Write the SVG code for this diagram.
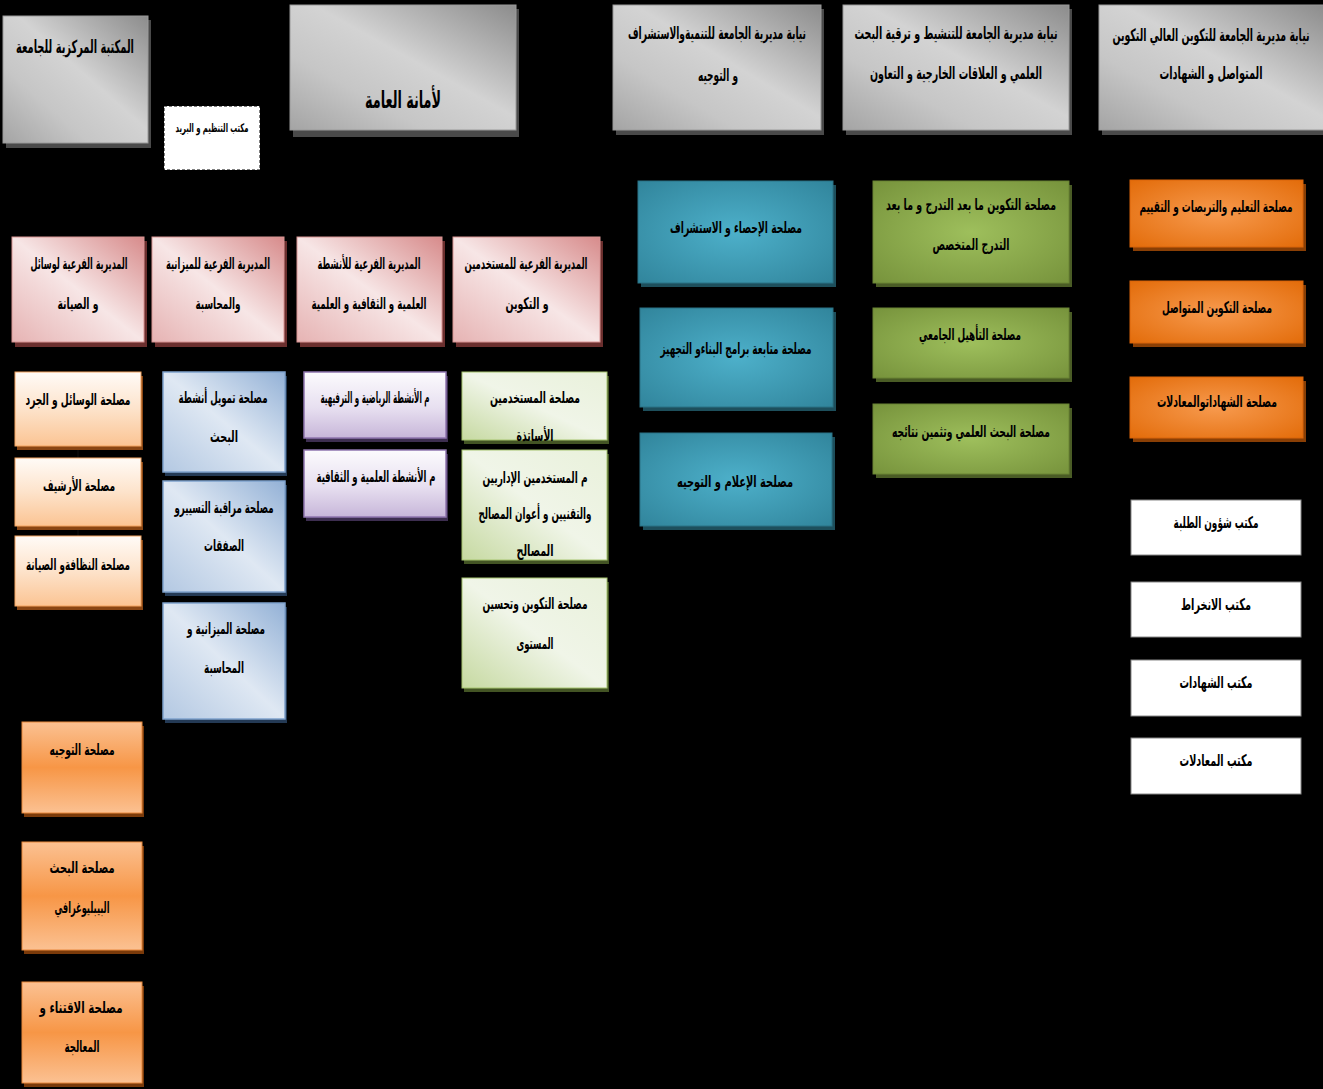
<svg xmlns="http://www.w3.org/2000/svg" width="1323" height="1089" viewBox="0 0 1323 1089">
<defs>
<linearGradient id="gGray" x1="1" y1="0" x2="0" y2="1"><stop offset="0" stop-color="#8c8c8c"/><stop offset="0.45" stop-color="#d3d3d3"/><stop offset="0.7" stop-color="#c6c6c6"/><stop offset="1" stop-color="#a4a4a4"/></linearGradient>
<linearGradient id="gPink" x1="1" y1="0" x2="0" y2="1"><stop offset="0" stop-color="#d78b8b"/><stop offset="0.5" stop-color="#f7e6e6"/><stop offset="1" stop-color="#e6b3b3"/></linearGradient>
<linearGradient id="gPeach" x1="0" y1="0" x2="0" y2="1"><stop offset="0" stop-color="#fffbf7"/><stop offset="0.5" stop-color="#fde3cb"/><stop offset="1" stop-color="#fbc493"/></linearGradient>
<linearGradient id="gBlue" x1="1" y1="0" x2="0" y2="1"><stop offset="0" stop-color="#93b1d6"/><stop offset="0.5" stop-color="#dfe8f3"/><stop offset="1" stop-color="#b3c8e2"/></linearGradient>
<linearGradient id="gPurple" x1="0" y1="0" x2="0" y2="1"><stop offset="0" stop-color="#fcfbfd"/><stop offset="0.55" stop-color="#e7dff0"/><stop offset="1" stop-color="#c7b6d9"/></linearGradient>
<linearGradient id="gLGreen" x1="1" y1="0" x2="0" y2="1"><stop offset="0" stop-color="#e9f1db"/><stop offset="0.5" stop-color="#f0f5e8"/><stop offset="1" stop-color="#c6d9a1"/></linearGradient>
<linearGradient id="gOrangeL" x1="0" y1="0" x2="0" y2="1"><stop offset="0" stop-color="#fbc192"/><stop offset="0.5" stop-color="#f79646"/><stop offset="1" stop-color="#fbc192"/></linearGradient>
<radialGradient id="gTeal" cx="0.5" cy="0.5" r="0.7"><stop offset="0" stop-color="#4db0ca"/><stop offset="1" stop-color="#31859c"/></radialGradient>
<radialGradient id="gOlive" cx="0.5" cy="0.5" r="0.7"><stop offset="0" stop-color="#9ebf5c"/><stop offset="1" stop-color="#77933c"/></radialGradient>
<radialGradient id="gOrangeR" cx="0.5" cy="0.5" r="0.7"><stop offset="0" stop-color="#f79a4e"/><stop offset="1" stop-color="#e36c0a"/></radialGradient>
<style>
text{font-family:"DejaVu Sans","DejaVu Sans Condensed",sans-serif;font-weight:bold;fill:#000;text-anchor:middle;font-size:16px}
.t18{font-size:18px}.t24{font-size:24px}.t17{font-size:17px}.t12{font-size:12px}
.gray{fill:url(#gGray);stroke:#9a9a9a;stroke-width:1}
.shGray{fill:#4a4a4a}
.pink{fill:url(#gPink);stroke:#d99594;stroke-width:1}
.shPink{fill:#6b2f2e}
.peach{fill:url(#gPeach);stroke:#f4a460;stroke-width:1}
.shPeach{fill:#8a4613}
.blue{fill:url(#gBlue);stroke:#7fa2cd;stroke-width:1.5}
.shBlue{fill:#243a55}
.purple{fill:url(#gPurple);stroke:#8f75ae;stroke-width:1.5}
.shPurple{fill:#3d2e50}
.lgreen{fill:url(#gLGreen);stroke:#a6c46e;stroke-width:1}
.shLGreen{fill:#435424}
.orangeL{fill:url(#gOrangeL);stroke:#e8873a;stroke-width:1}
.shOrangeL{fill:#7a3a0a}
.teal{fill:url(#gTeal);stroke:#2b7385;stroke-width:1}
.shTeal{fill:#1d4f5c}
.olive{fill:url(#gOlive);stroke:#6a8435;stroke-width:1}
.shOlive{fill:#4a5c25}
.orangeR{fill:url(#gOrangeR);stroke:#d9640a;stroke-width:1}
.shOrangeR{fill:#8a3f05}
.white{fill:#fff;stroke:#888;stroke-width:1}
.dashed{fill:#fff;stroke:#000;stroke-width:1;stroke-dasharray:3 2}
.conn{stroke:#111;stroke-width:1;fill:none}
</style>
</defs>
<rect x="0" y="0" width="1323" height="1089" fill="#000"/>

<g id="connectors">
<line class="conn" x1="403" y1="130" x2="403" y2="137"/>
<line class="conn" x1="78" y1="446" x2="78" y2="458"/>
<line class="conn" x1="78" y1="526" x2="78" y2="536"/>
</g>

<!-- top row -->
<g id="n-library">
<rect class="shGray" x="6" y="20" width="145" height="128"/>
<rect class="gray" x="3" y="16" width="145" height="127"/>
<text class="t18" x="75" y="53" textLength="118" lengthAdjust="spacingAndGlyphs">المكتبة المركزية للجامعة</text>
</g>
<g id="n-mail">
<rect class="dashed" x="164" y="106" width="96" height="64"/>
<text class="t12" x="212" y="132" textLength="73" lengthAdjust="spacingAndGlyphs">مكتب التنظيم و البريد</text>
</g>
<g id="n-secretariat">
<rect class="shGray" x="293" y="9" width="226" height="128"/>
<rect class="gray" x="290" y="5" width="226" height="125"/>
<text class="t24" x="403" y="108" textLength="76" lengthAdjust="spacingAndGlyphs">لأمانة العامة</text>
</g>
<g id="n-vp-dev">
<rect class="shGray" x="616" y="9" width="208" height="126"/>
<rect class="gray" x="613" y="5" width="208" height="125"/>
<text class="t17" x="717" y="39" textLength="178" lengthAdjust="spacingAndGlyphs">نيابة مديرية الجامعة للتنميةوالاستشراف</text>
<text class="t17" x="718" y="81" textLength="40" lengthAdjust="spacingAndGlyphs">و التوجيه</text>
</g>
<g id="n-vp-research">
<rect class="shGray" x="846" y="9" width="226" height="126"/>
<rect class="gray" x="843" y="5" width="226" height="125"/>
<text class="t17" x="956" y="39" textLength="203" lengthAdjust="spacingAndGlyphs">نيابة مديرية الجامعة للتنشيط  و ترقية البحث</text>
<text class="t17" x="956" y="79" textLength="172" lengthAdjust="spacingAndGlyphs">العلمي و العلاقات الخارجية و التعاون</text>
</g>
<g id="n-vp-training">
<rect class="shGray" x="1102" y="9" width="224" height="126"/>
<rect class="gray" x="1099" y="5" width="226" height="125"/>
<text class="t17" x="1211" y="41" textLength="197" lengthAdjust="spacingAndGlyphs">نيابة مديرية الجامعة للتكوين العالي التكوين</text>
<text class="t17" x="1211" y="79" textLength="103" lengthAdjust="spacingAndGlyphs">المتواصل و الشهادات</text>
</g>

<!-- pink sub-directorates -->
<g id="n-sd-means">
<rect class="shPink" x="15" y="241" width="132" height="106"/>
<rect class="pink" x="12" y="237" width="132" height="105"/>
<text x="79" y="269" textLength="97" lengthAdjust="spacingAndGlyphs">المديرية الفرعية لوسائل</text>
<text x="78" y="309" textLength="41" lengthAdjust="spacingAndGlyphs">و الصيانة</text>
</g>
<g id="n-sd-budget">
<rect class="shPink" x="155" y="241" width="132" height="106"/>
<rect class="pink" x="152" y="237" width="132" height="105"/>
<text x="218" y="269" textLength="104" lengthAdjust="spacingAndGlyphs">المديرية الفرعية للميزانية</text>
<text x="218" y="309" textLength="45" lengthAdjust="spacingAndGlyphs">والمحاسبة</text>
</g>
<g id="n-sd-activities">
<rect class="shPink" x="300" y="241" width="145" height="106"/>
<rect class="pink" x="297" y="237" width="145" height="105"/>
<text x="369" y="269" textLength="103" lengthAdjust="spacingAndGlyphs">المديرية الفرعية للأنشطة</text>
<text x="369" y="309" textLength="115" lengthAdjust="spacingAndGlyphs">العلمية و الثقافية و العلمية</text>
</g>
<g id="n-sd-staff">
<rect class="shPink" x="456" y="241" width="147" height="106"/>
<rect class="pink" x="453" y="237" width="147" height="105"/>
<text x="526" y="269" textLength="123" lengthAdjust="spacingAndGlyphs">المديرية الفرعية للمستخدمين</text>
<text x="527" y="309" textLength="43" lengthAdjust="spacingAndGlyphs">و التكوين</text>
</g>

<!-- peach column -->
<g id="n-s-means">
<rect class="shPeach" x="17" y="376" width="126" height="74"/>
<rect class="peach" x="15" y="372" width="126" height="74"/>
<text x="78" y="405" textLength="105" lengthAdjust="spacingAndGlyphs">مصلحة الوسائل و الجرد</text>
</g>
<g id="n-s-archive">
<rect class="shPeach" x="17" y="462" width="126" height="68"/>
<rect class="peach" x="15" y="458" width="126" height="68"/>
<text x="79" y="491" textLength="72" lengthAdjust="spacingAndGlyphs">مصلحة الأرشيف</text>
</g>
<g id="n-s-cleaning">
<rect class="shPeach" x="17" y="540" width="126" height="70"/>
<rect class="peach" x="15" y="536" width="126" height="70"/>
<text x="78" y="570" textLength="104" lengthAdjust="spacingAndGlyphs">مصلحة النظافةو الصيانة</text>
</g>

<!-- blue column -->
<g id="n-s-funding">
<rect class="shBlue" x="165" y="376" width="122" height="100"/>
<rect class="blue" x="163" y="372" width="122" height="100"/>
<text x="223" y="403" textLength="89" lengthAdjust="spacingAndGlyphs">مصلحة تمويل أنشطة</text>
<text x="224" y="442" textLength="28" lengthAdjust="spacingAndGlyphs">البحث</text>
</g>
<g id="n-s-control">
<rect class="shBlue" x="165" y="485" width="122" height="111"/>
<rect class="blue" x="163" y="481" width="122" height="111"/>
<text x="224" y="513" textLength="99" lengthAdjust="spacingAndGlyphs">مصلحة مراقبة التسييرو</text>
<text x="224" y="551" textLength="40" lengthAdjust="spacingAndGlyphs">الصفقات</text>
</g>
<g id="n-s-budget">
<rect class="shBlue" x="165" y="607" width="122" height="116"/>
<rect class="blue" x="163" y="603" width="122" height="116"/>
<text x="226" y="634" textLength="78" lengthAdjust="spacingAndGlyphs">مصلحة الميزانية و</text>
<text x="224" y="673" textLength="40" lengthAdjust="spacingAndGlyphs">المحاسبة</text>
</g>

<!-- purple column -->
<g id="n-s-sports">
<rect class="shPurple" x="306" y="376" width="142" height="66"/>
<rect class="purple" x="304" y="372" width="142" height="66"/>
<text x="375" y="403" textLength="109" lengthAdjust="spacingAndGlyphs">م الأنشطة الرياضية و الترفيهية</text>
</g>
<g id="n-s-culture">
<rect class="shPurple" x="306" y="454" width="142" height="67"/>
<rect class="purple" x="304" y="450" width="142" height="67"/>
<text x="376" y="482" textLength="119" lengthAdjust="spacingAndGlyphs">م الأنشطة العلمية و الثقافية</text>
</g>

<!-- light green column -->
<g id="n-s-teachers">
<rect class="shLGreen" x="464" y="376" width="145" height="68"/>
<rect class="lgreen" x="462" y="372" width="145" height="68"/>
<text x="535" y="403" textLength="90" lengthAdjust="spacingAndGlyphs">مصلحة المستخدمين</text>
<text x="535" y="441" textLength="37" lengthAdjust="spacingAndGlyphs">الأساتذة</text>
</g>
<g id="n-s-admin">
<rect class="shLGreen" x="464" y="454" width="145" height="110"/>
<rect class="lgreen" x="462" y="450" width="145" height="110"/>
<text x="535" y="483" textLength="105" lengthAdjust="spacingAndGlyphs">م المستخدمين الإداريين</text>
<text x="535" y="519" textLength="113" lengthAdjust="spacingAndGlyphs">والتقنيين و أعوان المصالح</text>
<text x="535" y="556" textLength="37" lengthAdjust="spacingAndGlyphs">المصالح</text>
</g>
<g id="n-s-improve">
<rect class="shLGreen" x="464" y="582" width="145" height="110"/>
<rect class="lgreen" x="462" y="578" width="145" height="110"/>
<text x="535" y="609" textLength="105" lengthAdjust="spacingAndGlyphs">مصلحة التكوين وتحسين</text>
<text x="535" y="649" textLength="37" lengthAdjust="spacingAndGlyphs">المستوى</text>
</g>

<!-- orange left column -->
<g id="n-s-orientation">
<rect class="shOrangeL" x="24" y="726" width="120" height="91"/>
<rect class="orangeL" x="22" y="722" width="120" height="91"/>
<text x="82" y="755" textLength="65" lengthAdjust="spacingAndGlyphs">مصلحة التوجيه</text>
</g>
<g id="n-s-biblio">
<rect class="shOrangeL" x="24" y="846" width="120" height="108"/>
<rect class="orangeL" x="22" y="842" width="120" height="108"/>
<text x="82" y="873" textLength="65" lengthAdjust="spacingAndGlyphs">مصلحة البحث</text>
<text x="82" y="913" textLength="55" lengthAdjust="spacingAndGlyphs">البيبليوغرافي</text>
</g>
<g id="n-s-acquisition">
<rect class="shOrangeL" x="24" y="986" width="120" height="101"/>
<rect class="orangeL" x="22" y="982" width="120" height="101"/>
<text x="81" y="1013" textLength="83" lengthAdjust="spacingAndGlyphs">مصلحة الاقتناء  و</text>
<text x="82" y="1052" textLength="35" lengthAdjust="spacingAndGlyphs">المعالجة</text>
</g>

<!-- teal column -->
<g id="n-s-stats">
<rect class="shTeal" x="641" y="185" width="195" height="102"/>
<rect class="teal" x="638" y="181" width="195" height="102"/>
<text x="736" y="233" textLength="132" lengthAdjust="spacingAndGlyphs">مصلحة الإحصاء و الاستشراف</text>
</g>
<g id="n-s-building">
<rect class="shTeal" x="643" y="312" width="193" height="99"/>
<rect class="teal" x="640" y="308" width="193" height="99"/>
<text x="736" y="354" textLength="151" lengthAdjust="spacingAndGlyphs">مصلحة متابعة برامج البناءو التجهيز</text>
</g>
<g id="n-s-info">
<rect class="shTeal" x="643" y="437" width="192" height="93"/>
<rect class="teal" x="640" y="433" width="192" height="93"/>
<text x="735" y="487" textLength="116" lengthAdjust="spacingAndGlyphs">مصلحة الإعلام و التوجيه</text>
</g>

<!-- olive column -->
<g id="n-s-postgrad">
<rect class="shOlive" x="876" y="185" width="196" height="102"/>
<rect class="olive" x="873" y="181" width="196" height="102"/>
<text x="971" y="210" textLength="170" lengthAdjust="spacingAndGlyphs">مصلحة التكوين ما بعد التدرج  و ما بعد</text>
<text x="971" y="250" textLength="77" lengthAdjust="spacingAndGlyphs">التدرج المتخصص</text>
</g>
<g id="n-s-habilitation">
<rect class="shOlive" x="876" y="312" width="196" height="70"/>
<rect class="olive" x="873" y="308" width="196" height="70"/>
<text x="970" y="340" textLength="102" lengthAdjust="spacingAndGlyphs">مصلحة التأهيل الجامعي</text>
</g>
<g id="n-s-research">
<rect class="shOlive" x="876" y="408" width="196" height="70"/>
<rect class="olive" x="873" y="404" width="196" height="70"/>
<text x="971" y="437" textLength="158" lengthAdjust="spacingAndGlyphs">مصلحة البحث العلمي وتثمين نتائجه</text>
</g>

<!-- orange right column -->
<g id="n-s-teaching">
<rect class="shOrangeR" x="1133" y="184" width="173" height="67"/>
<rect class="orangeR" x="1130" y="180" width="173" height="67"/>
<text x="1216" y="212" textLength="153" lengthAdjust="spacingAndGlyphs">مصلحة التعليم والتربصات و التقييم</text>
</g>
<g id="n-s-continuing">
<rect class="shOrangeR" x="1133" y="285" width="173" height="62"/>
<rect class="orangeR" x="1130" y="281" width="173" height="62"/>
<text x="1217" y="313" textLength="110" lengthAdjust="spacingAndGlyphs">مصلحة التكوين المتواصل</text>
</g>
<g id="n-s-diplomas">
<rect class="shOrangeR" x="1133" y="381" width="173" height="61"/>
<rect class="orangeR" x="1130" y="377" width="173" height="61"/>
<text x="1217" y="407" textLength="120" lengthAdjust="spacingAndGlyphs">مصلحة الشهاداتوالمعادلات</text>
</g>

<!-- white offices -->
<g id="n-o-students">
<rect class="white" x="1131" y="500" width="170" height="55"/>
<text x="1216" y="528" textLength="85" lengthAdjust="spacingAndGlyphs">مكتب شؤون الطلبة</text>
</g>
<g id="n-o-enrol">
<rect class="white" x="1131" y="582" width="170" height="55"/>
<text x="1216" y="610" textLength="70" lengthAdjust="spacingAndGlyphs">مكتب الانخراط</text>
</g>
<g id="n-o-diplomas">
<rect class="white" x="1131" y="660" width="170" height="56"/>
<text x="1216" y="688" textLength="73" lengthAdjust="spacingAndGlyphs">مكتب الشهادات</text>
</g>
<g id="n-o-equiv">
<rect class="white" x="1131" y="738" width="170" height="56"/>
<text x="1216" y="766" textLength="73" lengthAdjust="spacingAndGlyphs">مكتب المعادلات</text>
</g>
</svg>
